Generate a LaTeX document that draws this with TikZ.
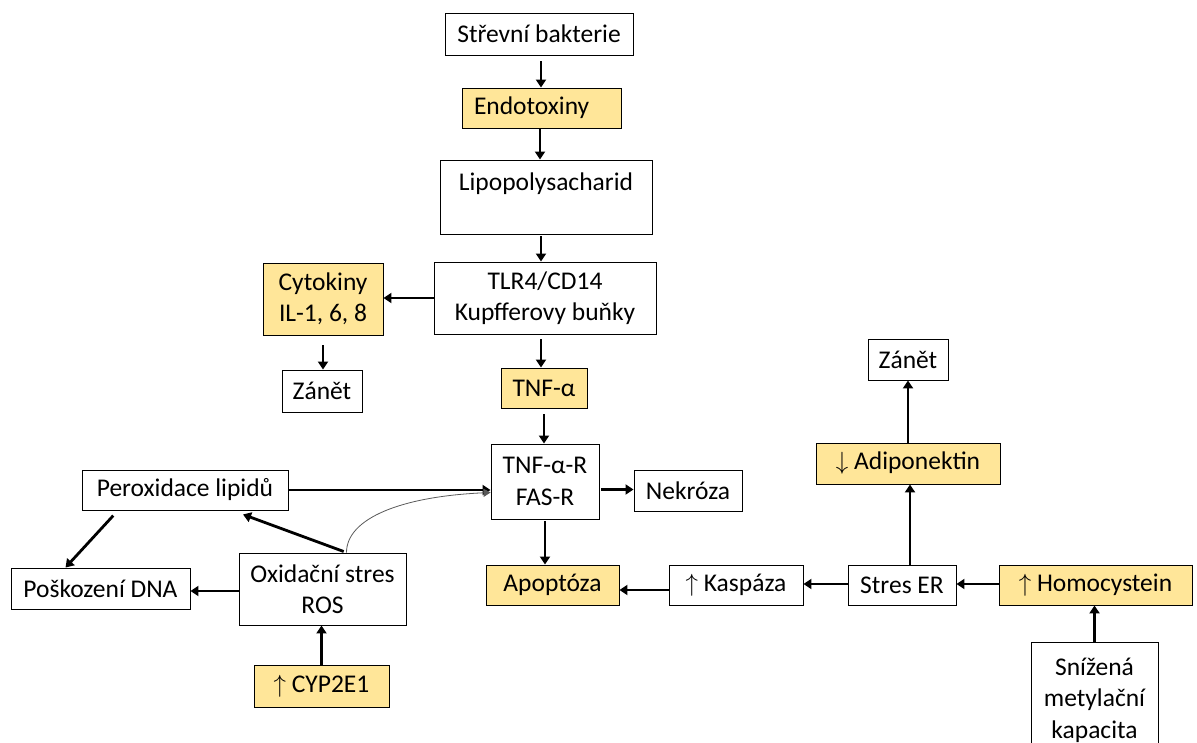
\documentclass[tikz,border=0pt]{standalone}
\usepackage{fontspec}
\setmainfont{Carlito}
\usetikzlibrary{arrows.meta}
\definecolor{gold}{HTML}{FFE699}

\begin{document}
\begin{tikzpicture}[x=1pt,y=1pt,font=\fontsize{25.5}{31.5}\selectfont]
\tikzstyle{every node}+=[inner sep=0pt]
\tikzstyle{box}=[draw=black, line width=0.9pt, fill=white, align=center]
\tikzstyle{hi}=[box, fill=gold]
\tikzstyle{arr}=[line width=2.8pt, -{Triangle[length=8pt,width=10pt]}]
\useasboundingbox (0,0) rectangle (1197,742);
% nodes
\node [box, minimum width=188, minimum height=42] (bakt) at (539,708) {Střevní bakterie};
\node [hi, minimum width=159, minimum height=40, text width=135, align=left] (endo) at (541.5,634) {Endotoxiny};
\node [box, minimum width=212, minimum height=74] (lps) at (546,545) {Lipopolysacharid\\ \mbox{}};
\node [box, minimum width=222, minimum height=72] (tlr) at (545,444) {TLR4/CD14\\Kupfferovy buňky};
\node [hi, minimum width=120, minimum height=72] (cyto) at (323,443) {Cytokiny\\IL-1, 6, 8};
\node [box, minimum width=80, minimum height=42] (zanetA) at (322,351) {Zánět};
\node [hi, minimum width=86, minimum height=40] (tnf) at (544,354) {TNF-α};
\node [box, minimum width=108, minimum height=75] (tnfr) at (545,260.5) {TNF-α-R\\FAS-R};
\node [box, minimum width=108, minimum height=41] (nekr) at (688,251.5) {Nekróza};
\node [box, minimum width=206, minimum height=40] (perox) at (185,252) {Peroxidace lipidů};
\node [box, minimum width=179, minimum height=41] (dna) at (100.5,153.5) {Poškození DNA};
\node [box, minimum width=167, minimum height=72] (ros) at (322.5,153) {Oxidační stres\\ROS};
\node [hi, minimum width=135, minimum height=42] (cyp) at (321.5,56) {$\uparrow$\ CYP2E1};
\node [hi, minimum width=133, minimum height=40] (apop) at (552.5,157) {Apoptóza};
\node [box, minimum width=134, minimum height=40] (kasp) at (736,157) {$\uparrow$\ Kaspáza};
\node [box, minimum width=108, minimum height=40] (ster) at (902,157) {Stres ER};
\node [hi, minimum width=193, minimum height=40] (homo) at (1095.5,157) {$\uparrow$\ Homocystein};
\node [box, minimum width=127, minimum height=116] (sniz) at (1094.5,42) {Snížená\\metylační\\kapacita};
\node [hi, minimum width=184, minimum height=41] (adip) at (908,278.5) {$\downarrow$\ Adiponektin};
\node [box, minimum width=80, minimum height=41] (zanetB) at (908,382.5) {Zánět};
% arrows
\draw [arr, shorten <=6pt] ([xshift=2pt]bakt.south) -- ([xshift=2pt]bakt.south |- endo.north);
\draw [arr] ([xshift=-1.5pt]endo.south) -- ([xshift=-1.5pt]endo.south |- lps.north);
\draw [arr, shorten <=2pt] ([xshift=-5pt]lps.south) -- ([xshift=-5pt]lps.south |- tlr.north);
\draw [arr] (tlr.west) -- (tlr.west -| cyto.east);
\draw [arr, shorten <=10pt] (cyto.south) -- (cyto.south |- zanetA.north);
\draw [arr, shorten <=5pt] ([xshift=-4pt]tlr.south) -- ([xshift=-4pt]tlr.south |- tnf.north);
\draw [arr, shorten <=6pt] (tnf.south) -- (tnf.south |- tnfr.north);
\draw [arr] (perox.east) -- (perox.east -| tnfr.west);
\draw [arr, shorten <=2pt] ([yshift=-8pt]tnfr.east) -- ([yshift=-8pt]tnfr.east -| nekr.west);
\draw [arr, shorten <=2pt] (tnfr.south) -- (tnfr.south |- apop.north);
\draw [arr, shorten <=3pt] ([xshift=24pt]ros.north) -- ([xshift=58pt,yshift=-4pt]perox.south);
\draw [line width=0.8pt, black!65, -{Triangle[length=7pt,width=8pt]}] ([xshift=24pt]ros.north) .. controls +(0,34) and +(-90,-4) .. ([yshift=-11pt]tnfr.west);
\draw [arr, shorten <=7pt] ([xshift=-67pt]perox.south) -- ([xshift=-35pt]dna.north);
\draw [arr] ([yshift=-2pt]ros.west) -- ([yshift=-2pt]ros.west -| dna.east);
\draw [arr] (cyp.north) -- (cyp.north |- ros.south);
\draw [arr] ([yshift=-5pt]kasp.west) -- ([yshift=-5pt]kasp.west -| apop.east);
\draw [arr] ([yshift=1pt]ster.west) -- ([yshift=1pt]ster.west -| kasp.east);
\draw [arr] ([yshift=1pt]homo.west) -- ([yshift=1pt]homo.west -| ster.east);
\draw [arr] (sniz.north) -- (sniz.north |- homo.south);
\draw [arr] ([xshift=8pt]ster.north) -- ([xshift=8pt]ster.north |- adip.south);
\draw [arr] (adip.north) -- (zanetB.south);
\end{tikzpicture}
\end{document}
